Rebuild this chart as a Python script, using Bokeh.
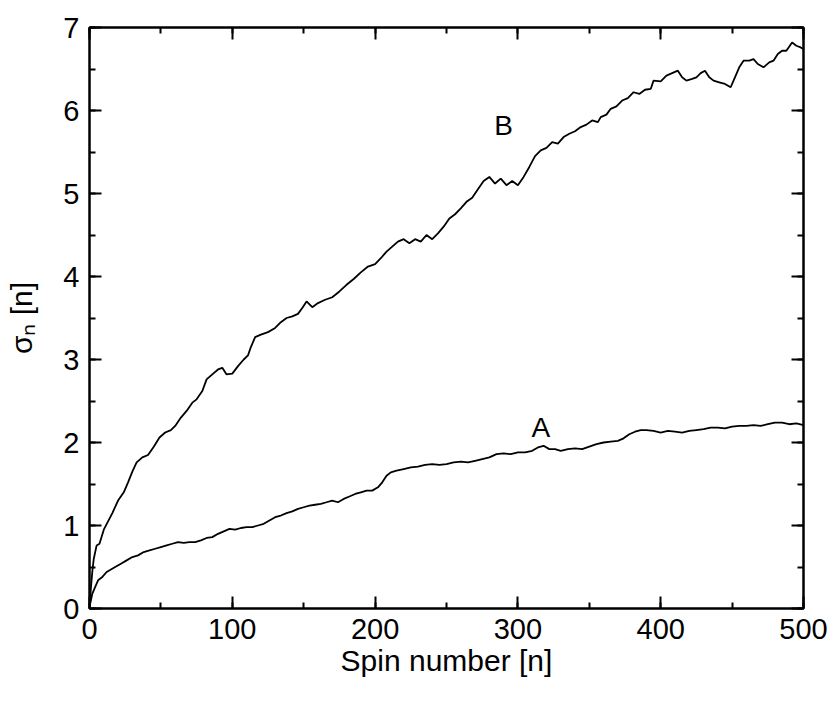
from bokeh.plotting import figure
from bokeh.models import LinearAxis, Range1d, SingleIntervalTicker, ColumnDataSource, CustomJSTickFormatter
from bokeh.core.properties import value
from bokeh.embed import file_html
from bokeh.resources import INLINE

# Curve B
b_n = [0, 1, 2, 3, 5, 7, 10, 13, 16, 20, 24, 27, 30, 33, 37, 41, 45, 49, 53, 57, 60, 64, 68, 72, 75, 79,
       82, 86, 90, 93, 96, 100, 104, 108, 111, 113, 116, 120, 125, 130, 134, 138, 142, 146, 149, 152, 156,
       160, 165, 170, 175, 180, 185, 190, 195, 200, 204, 208, 212, 216, 220, 224, 228, 232, 236, 240, 244,
       248, 252, 256, 260, 264, 268, 272, 276, 280, 284, 288, 292, 296, 300, 304, 308, 312, 316, 320, 324,
       328, 332, 336, 340, 344, 348, 352, 356, 358, 362, 365, 369, 373, 377, 381, 385, 389, 393, 395, 400,
       404, 408, 412, 415, 418, 422, 425, 428, 431, 434, 437, 441, 445, 449, 452, 455, 458, 462, 465, 468,
       472, 476, 479, 482, 485, 488, 492, 495, 498, 500]
b_val = [0.0, 0.25, 0.45, 0.6, 0.76, 0.78, 0.95, 1.05, 1.15, 1.3, 1.4, 1.52, 1.65, 1.76, 1.82, 1.85, 1.95,
         2.06, 2.12, 2.15, 2.2, 2.3, 2.38, 2.48, 2.52, 2.62, 2.76, 2.82, 2.88, 2.9, 2.82, 2.83, 2.92, 3.0,
         3.05, 3.15, 3.27, 3.30, 3.33, 3.38, 3.45, 3.50, 3.52, 3.55, 3.62, 3.70, 3.63, 3.68, 3.72, 3.75,
         3.82, 3.90, 3.97, 4.05, 4.12, 4.15, 4.22, 4.30, 4.36, 4.42, 4.45, 4.40, 4.45, 4.42, 4.50, 4.45,
         4.52, 4.60, 4.70, 4.75, 4.82, 4.90, 4.95, 5.05, 5.15, 5.20, 5.12, 5.18, 5.10, 5.15, 5.10, 5.20,
         5.32, 5.45, 5.52, 5.55, 5.62, 5.60, 5.68, 5.72, 5.75, 5.80, 5.83, 5.88, 5.86, 5.92, 5.95, 6.02,
         6.05, 6.12, 6.15, 6.22, 6.20, 6.25, 6.26, 6.36, 6.35, 6.42, 6.45, 6.48, 6.40, 6.36, 6.38, 6.40,
         6.45, 6.48, 6.40, 6.36, 6.34, 6.32, 6.28, 6.40, 6.52, 6.60, 6.60, 6.62, 6.56, 6.52, 6.58, 6.60,
         6.68, 6.72, 6.72, 6.82, 6.78, 6.76, 6.74]

# Curve A
a_n = [0, 1, 2, 4, 6, 9, 12, 15, 18, 22, 26, 30, 34, 38, 42, 46, 50, 54, 58, 62, 66, 70, 74, 78, 82, 86,
       90, 94, 98, 102, 106, 110, 114, 118, 122, 126, 130, 134, 138, 142, 146, 150, 154, 158, 162, 166,
       170, 174, 178, 182, 186, 190, 194, 198, 202, 205, 208, 211, 215, 220, 225, 230, 235, 240, 245, 250,
       255, 260, 265, 270, 275, 280, 285, 290, 295, 300, 305, 310, 314, 318, 322, 326, 330, 335, 340, 345,
       350, 355, 360, 365, 370, 374, 378, 382, 386, 390, 395, 400, 405, 410, 415, 420, 425, 430, 435, 440,
       445, 450, 455, 460, 465, 470, 475, 480, 485, 490, 495, 500]
a_val = [0.02, 0.1, 0.18, 0.26, 0.34, 0.38, 0.44, 0.47, 0.50, 0.54, 0.58, 0.62, 0.64, 0.68, 0.70, 0.72,
         0.74, 0.76, 0.78, 0.80, 0.79, 0.80, 0.80, 0.82, 0.85, 0.86, 0.90, 0.93, 0.96, 0.95, 0.97, 0.98,
         0.98, 1.00, 1.02, 1.06, 1.10, 1.12, 1.15, 1.17, 1.20, 1.22, 1.24, 1.25, 1.26, 1.28, 1.30, 1.28,
         1.32, 1.35, 1.38, 1.40, 1.42, 1.42, 1.46, 1.52, 1.60, 1.64, 1.66, 1.68, 1.70, 1.71, 1.73, 1.74,
         1.73, 1.74, 1.76, 1.77, 1.76, 1.78, 1.80, 1.82, 1.86, 1.87, 1.86, 1.88, 1.88, 1.90, 1.94, 1.96,
         1.92, 1.92, 1.90, 1.92, 1.93, 1.92, 1.95, 1.98, 2.00, 2.01, 2.02, 2.05, 2.10, 2.13, 2.15, 2.15,
         2.14, 2.12, 2.14, 2.13, 2.12, 2.14, 2.15, 2.16, 2.18, 2.18, 2.17, 2.19, 2.20, 2.20, 2.21, 2.20,
         2.22, 2.24, 2.24, 2.22, 2.23, 2.21]

curve_labels = ["A", "B"]
label_n = [316, 290]
label_val = [2.18, 5.82]

x_ticks_interval = 100
y_ticks_interval = 1

FONT = "Liberation Sans"

p = figure(width=830, height=705, output_backend="svg", toolbar_location=None,
           x_range=Range1d(0, 500), y_range=Range1d(0, 7),
           min_border_left=89, min_border_right=27, min_border_top=27, min_border_bottom=97,
           x_axis_label="Spin number [n]", y_axis_label="σₙ [n]")
p.grid.visible = False
p.background_fill_color = "white"
p.border_fill_color = "white"
p.outline_line_color = "black"
p.outline_line_width = 2

bottom = p.below[0]
left = p.left[0]
bottom.ticker = SingleIntervalTicker(interval=x_ticks_interval, num_minor_ticks=2)
left.ticker = SingleIntervalTicker(interval=y_ticks_interval, num_minor_ticks=2)

blank = CustomJSTickFormatter(code="return '';")
top = LinearAxis(ticker=SingleIntervalTicker(interval=x_ticks_interval, num_minor_ticks=2), formatter=blank)
right = LinearAxis(ticker=SingleIntervalTicker(interval=y_ticks_interval, num_minor_ticks=2), formatter=blank)
p.add_layout(top, "above")
p.add_layout(right, "right")

for ax in [bottom, left, top, right]:
    ax.axis_line_width = 2
    ax.axis_line_color = "black"
    ax.major_tick_in = 12
    ax.major_tick_out = 0
    ax.minor_tick_in = 6
    ax.minor_tick_out = 0
    ax.major_tick_line_width = 2
    ax.minor_tick_line_width = 2
    ax.major_tick_line_color = "black"
    ax.minor_tick_line_color = "black"
    ax.major_label_text_font = FONT
    ax.major_label_text_color = "black"
    ax.axis_label_text_font = FONT
    ax.axis_label_text_font_style = "normal"
    ax.axis_label_text_color = "black"

for ax in [top, right]:
    ax.major_label_standoff = 0

bottom.major_label_text_font_size = "29px"
left.major_label_text_font_size = "29px"
bottom.major_label_standoff = 10
left.major_label_standoff = 10
bottom.axis_label_text_font_size = "30px"
left.axis_label_text_font_size = "30px"
bottom.axis_label_standoff = 2
left.axis_label_standoff = 22

p.line(b_n, b_val, line_color="black", line_width=1.8)
p.line(a_n, a_val, line_color="black", line_width=1.8)

src = ColumnDataSource(dict(x=label_n, y=label_val, t=curve_labels))
p.text(x="x", y="y", text="t", source=src, text_font=value(FONT), text_font_size="28px",
       text_align="center", text_baseline="middle", text_color="black")

open("out.html", "w").write(file_html(p, INLINE))
